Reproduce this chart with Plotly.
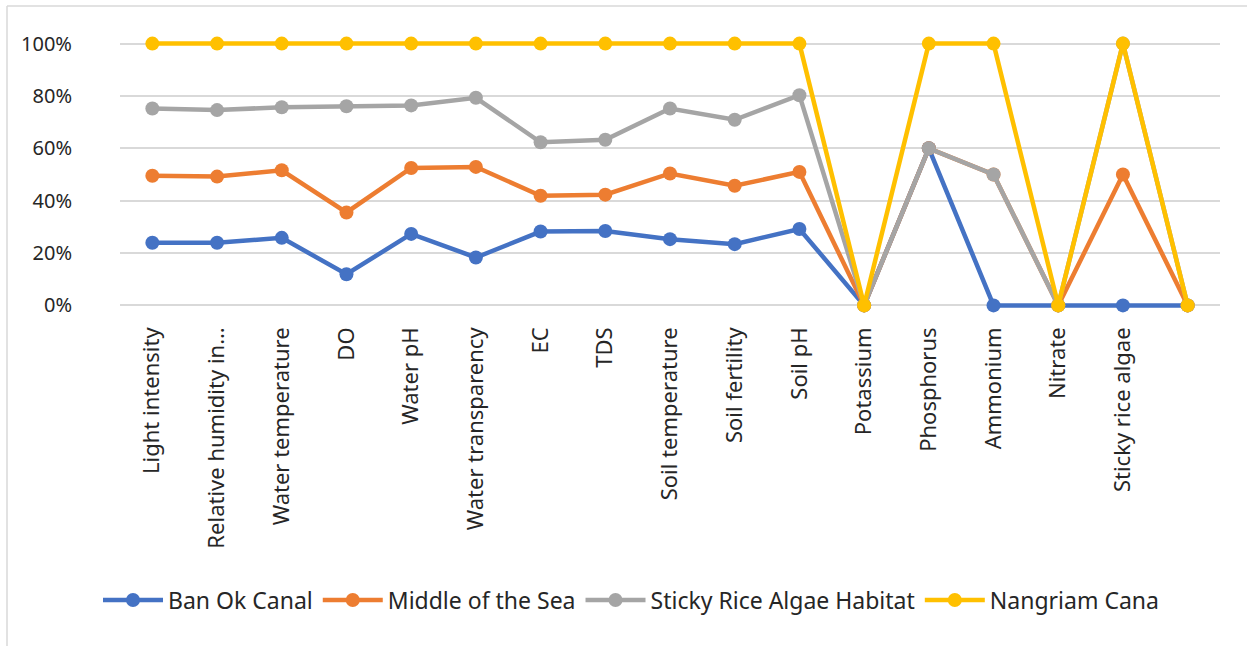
import numpy as np
import plotly.graph_objects as go

categories = ["Light intensity", "Relative humidity in…", "Water temperature", "DO",
              "Water pH", "Water transparency", "EC", "TDS", "Soil temperature",
              "Soil fertility", "Soil pH", "Potassium", "Phosphorus", "Ammonium",
              "Nitrate", "Sticky rice algae", ""]

# share of each site (percent), stacked as in a 100% stacked line chart
ban_ok_canal = [23.9, 23.9, 25.8, 11.9, 27.3, 18.3, 28.2, 28.4, 25.3, 23.4, 29.2, 0, 60, 0, 0, 0, 0]
middle_of_sea = [25.6, 25.3, 25.8, 23.6, 25.2, 34.6, 13.7, 13.9, 25.1, 22.3, 21.8, 0, 0, 50, 0, 50, 0]
sticky_rice_habitat = [25.7, 25.4, 24.1, 40.6, 23.9, 26.4, 20.4, 21.0, 24.8, 25.2, 29.3, 0, 0, 0, 0, 50, 0]
nangriam_canal = [24.8, 25.4, 24.3, 23.9, 23.6, 20.7, 37.7, 36.7, 24.8, 29.1, 19.7, 0, 40, 50, 0, 0, 0]

series_names = ["Ban Ok Canal", "Middle of the Sea", "Sticky Rice Algae Habitat", "Nangriam Cana"]
series_values = [ban_ok_canal, middle_of_sea, sticky_rice_habitat, nangriam_canal]
colors = ["#4472C4", "#ED7D31", "#A5A5A5", "#FFC000"]

x = np.arange(len(categories))
cum = np.cumsum(np.array(series_values, dtype=float), axis=0)

fig = go.Figure()
for name, ys, c in zip(series_names, cum, colors):
    fig.add_trace(go.Scatter(
        x=x, y=ys, name=name, mode="lines+markers",
        line=dict(color=c, width=4.5),
        marker=dict(color=c, size=14),
        cliponaxis=False,
    ))

L, R, T, B = 120, 27, 41, 338
W, H = 1247, 646
pw, ph = W - L - R, H - T - B

def px(xp):
    return (xp - L) / pw

def py(yp):
    return (H - B - yp) / ph

fig.update_layout(
    width=W, height=H,
    margin=dict(l=L, r=R, t=T, b=B),
    paper_bgcolor="white", plot_bgcolor="white",
    font=dict(family="Noto Sans", color="#262626"),
    showlegend=True,
    legend=dict(orientation="h", x=px(631), y=py(600), xanchor="center", yanchor="middle",
                font=dict(size=23, color="#262626"), itemwidth=60, tracegroupgap=0,
                bgcolor="rgba(0,0,0,0)"),
    xaxis=dict(range=[-0.5, len(categories) - 0.5], tickmode="array", tickvals=x,
               ticktext=categories, tickangle=-90, showgrid=False, zeroline=False,
               showline=False, ticks="", tickfont=dict(size=22, color="#262626"),
               ticklabelstandoff=14, fixedrange=True),
    yaxis=dict(range=[-1, 101], tickvals=[0, 20, 40, 60, 80, 100],
               ticktext=["0%", "20%", "40%", "60%", "80%", "100%"],
               showgrid=True, gridcolor="#D9D9D9", gridwidth=1.5, zeroline=False,
               showline=False, ticks="", tickfont=dict(size=20, color="#262626"),
               ticklabelstandoff=47, fixedrange=True),
    shapes=[
        dict(type="line", xref="paper", yref="paper", x0=px(7), x1=px(7), y0=py(6), y1=py(646),
             line=dict(color="#D9D9D9", width=1.5)),
        dict(type="line", xref="paper", yref="paper", x0=px(7), x1=px(1247), y0=py(6), y1=py(6),
             line=dict(color="#D9D9D9", width=1.5)),
    ],
)

fig.write_html("out.html")
